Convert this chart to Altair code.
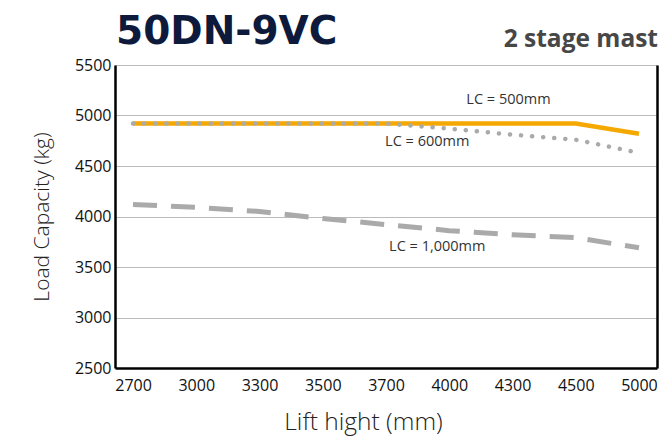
import altair as alt
import pandas as pd

lift = ["2700", "3000", "3300", "3500", "3700", "4000", "4300", "4500", "5000"]
lc500 = [4920, 4920, 4920, 4920, 4920, 4920, 4920, 4920, 4820]
lc600 = [4920, 4920, 4920, 4920, 4920, 4870, 4810, 4760, 4630]
lc1000 = [4120, 4090, 4050, 3980, 3920, 3860, 3820, 3790, 3690]

ann_text = ["LC = 500mm", "LC = 600mm", "LC = 1,000mm"]
ann_x = ["4300", "4000", "4000"]
ann_y = [5150, 4740, 3700]
ann_dx = [-4, -22, -12]

rows = []
for s, vals in [("500", lc500), ("600", lc600), ("1000", lc1000)]:
    for x, v in zip(lift, vals):
        rows.append({"lift": x, "cap": v, "series": s})
df = pd.DataFrame(rows)
ann = pd.DataFrame({"text": ann_text, "lift": ann_x, "cap": ann_y})

W, H = 542, 303
FONT = "Open Sans"

xscale = alt.Scale(type="point", padding=0.285)
xenc = alt.X("lift:O", sort=lift, scale=xscale,
             axis=alt.Axis(title="Lift hight (mm)", labelAngle=0, ticks=False,
                           domainColor="black", domainWidth=2.5,
                           labelFontSize=16, labelColor="#111", labelPadding=9,
                           titleFontSize=24.5, titleFontWeight=300, titleColor="#222",
                           titleBaseline="alphabetic", titleY=61, titleX=248,
                           labelFont=FONT, titleFont=FONT))
yscale = alt.Scale(domain=[2500, 5500], nice=False, zero=False)
yenc = alt.Y("cap:Q", scale=yscale,
             axis=alt.Axis(title="Load Capacity (kg)", values=[2500, 3000, 3500, 4000, 4500, 5000, 5500],
                           format="d", ticks=False, domainColor="black", domainWidth=2.5,
                           gridColor="#bbbbbb", gridWidth=1.2,
                           labelFontSize=16, labelColor="#111", labelPadding=4,
                           titleFontSize=21, titleFontWeight=300, titleColor="#222",
                           titlePadding=22, labelFont=FONT, titleFont=FONT))
xn = alt.X("lift:O", sort=lift)
yn = alt.Y("cap:Q")

base = alt.Chart(df)

l500 = base.transform_filter("datum.series == '500'").mark_line(
    color="#f5a800", strokeWidth=4.5).encode(x=xenc, y=yenc)
l600 = base.transform_filter("datum.series == '600'").mark_line(
    color="#aaaaaa", strokeWidth=4.5, strokeDash=[0.1, 11], strokeCap="round").encode(x=xn, y=yn)
l1000 = base.transform_filter("datum.series == '1000'").mark_line(
    color="#aaaaaa", strokeWidth=5, strokeDash=[24, 14]).encode(x=xn, y=yn)

label_layers = []
for i, t in enumerate(ann_text):
    label_layers.append(
        alt.Chart(ann).transform_filter(alt.datum.text == t).mark_text(
            fontSize=14.5, color="#333", font=FONT, dx=ann_dx[i]).encode(
            x=xn, y=yn, text="text:N"))

title_txt = alt.Chart(pd.DataFrame({"t": ["50DN-9VC"]})).mark_text(
    align="left", baseline="alphabetic", fontSize=39, fontWeight="bold",
    font="DejaVu Sans", color="#0d1a3c").encode(x=alt.value(1), y=alt.value(-21), text="t:N")
sub_txt = alt.Chart(pd.DataFrame({"t": ["2 stage mast"]})).mark_text(
    align="right", baseline="alphabetic", fontSize=24.5, fontWeight="bold",
    font=FONT, color="#474747").encode(x=alt.value(W + 1), y=alt.value(-18), text="t:N")

main = alt.layer(l500, l600, l1000, *label_layers, title_txt, sub_txt)

right = alt.Chart(df).mark_line(opacity=0).encode(
    x=xn,
    y=alt.Y("cap:Q", scale=yscale,
            axis=alt.Axis(orient="right", title=None, labels=False, ticks=False, grid=False,
                          domainColor="black", domainWidth=2.5)))

chart = alt.layer(main, right).resolve_axis(y="independent").properties(
    width=W, height=H,
    autosize=alt.AutoSizeParams(type="none"),
    padding={"left": 107, "top": 57, "right": 2, "bottom": 69},
).configure_view(stroke=None)

chart.save("out.html", embed_options={"renderer": "svg", "actions": False})
